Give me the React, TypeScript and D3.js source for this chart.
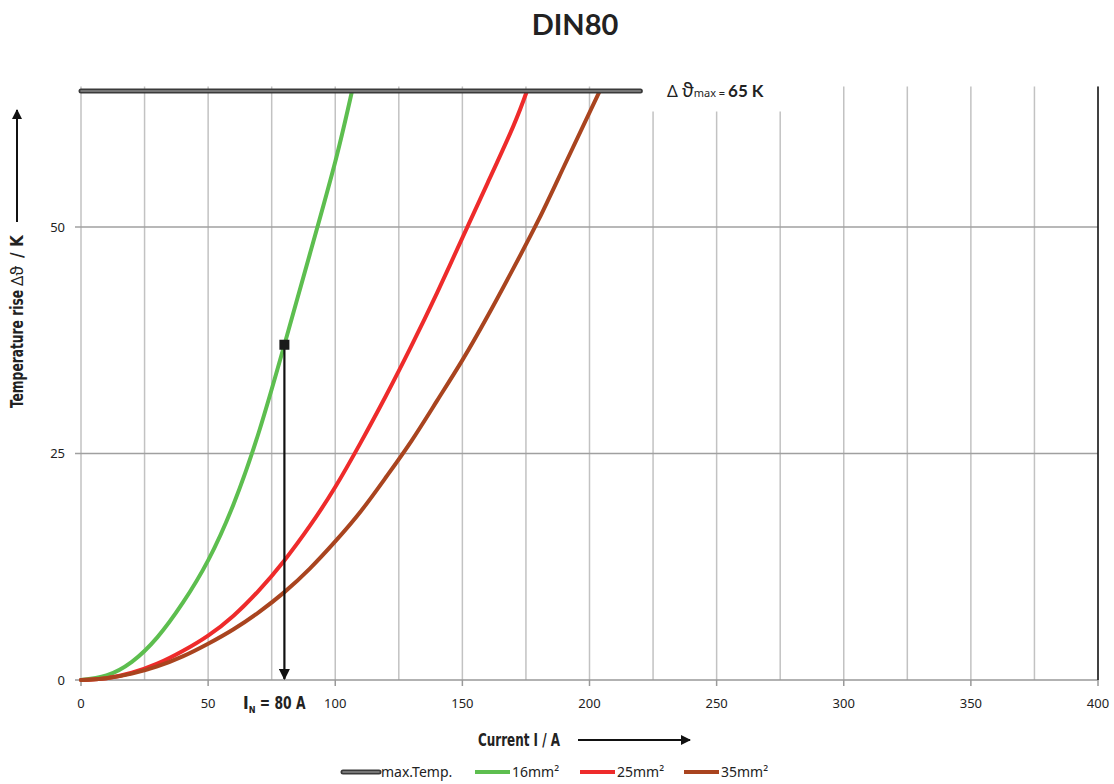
import React from 'react';
import * as d3 from 'd3';

// Temperature rise curves (current A, rise K)
const current16 = [0, 10, 20, 30, 40, 50, 60, 70, 80, 90, 100, 106.6];
const rise16 = [0, 0.5, 2.0, 4.7, 8.5, 13.2, 19.4, 27.4, 37.0, 47.0, 57.2, 65];

const current25 = [0, 10, 20, 30, 40, 50, 60, 70, 80, 90, 100, 110, 120, 130, 140, 150, 160, 170, 175.4];
const rise25 = [0, 0.2, 0.8, 1.8, 3.2, 4.9, 7.1, 9.9, 13.2, 17.0, 21.3, 26.2, 31.4, 36.9, 42.7, 48.8, 54.9, 61.1, 65];

const current35 = [0, 10, 20, 30, 40, 50, 60, 70, 80, 90, 100, 110, 120, 130, 140, 150, 160, 170, 180, 190, 204];
const rise35 = [0, 0.2, 0.7, 1.5, 2.6, 4.0, 5.6, 7.5, 9.7, 12.3, 15.3, 18.6, 22.4, 26.4, 30.8, 35.3, 40.2, 45.4, 50.8, 56.7, 65];

const series = [
  { name: '16mm²', xs: current16, ys: rise16, color: '#5dbe4f' },
  { name: '25mm²', xs: current25, ys: rise25, color: '#ee2b2b' },
  { name: '35mm²', xs: current35, ys: rise35, color: '#a9441f' },
];

const maxTemp = 65;
const maxTempEnd = 220;
const nominalCurrent = 80;
const nominalRise = 37;

const xGridTicks = d3.range(0, 401, 25);
const xLabelTicks = [0, 50, 100, 150, 200, 250, 300, 350, 400];
const yTicks = [0, 25, 50];

const W = 1114;
const H = 784;

const condensed = '"DejaVu Sans Condensed", "DejaVu Sans", sans-serif';
const plain = '"Noto Sans", "Open Sans", sans-serif';

export default function App() {
  const x = d3.scaleLinear().domain([0, 400]).range([81, 1098]);
  const y = d3.scaleLinear().domain([0, 65.5]).range([680, 86.5]);

  const line = d3
    .line<[number, number]>()
    .x((d) => x(d[0]))
    .y((d) => y(d[1]))
    .curve(d3.curveNatural);

  const top = y(65.5);
  const bottom = y(0);
  const left = x(0);
  const right = x(400);

  const legendItems = [
    { name: 'max.Temp.', color: null as string | null, x0: 343 },
    { name: series[0].name, color: series[0].color, x0: 475 },
    { name: series[1].name, color: series[1].color, x0: 580 },
    { name: series[2].name, color: series[2].color, x0: 684 },
  ];

  return (
    <svg
      width={W}
      height={H}
      style={{ position: 'absolute', left: 0, top: 0, background: '#fff' }}
    >
      <defs>
        <marker id="arrow" viewBox="0 0 10 10" refX="9" refY="5" markerWidth="5" markerHeight="5" orient="auto-start-reverse">
          <path d="M0,0 L10,5 L0,10 z" fill="#111" />
        </marker>
      </defs>

      {/* title */}
      <text x={575} y={35} textAnchor="middle" fontFamily='Lato, "Open Sans", sans-serif' fontWeight="bold" fontSize={29} fill="#222">
        DIN80
      </text>

      {/* vertical grid */}
      {xGridTicks.map((t) => (
        <line key={'vx' + t} x1={x(t)} x2={x(t)} y1={top} y2={bottom} stroke="#c2c2c2" strokeWidth={1.5} />
      ))}
      {/* horizontal grid */}
      {yTicks.filter((t) => t > 0).map((t) => (
        <line key={'hy' + t} x1={left - 6} x2={right} y1={y(t)} y2={y(t)} stroke="#a0a0a0" strokeWidth={1.5} />
      ))}
      {/* bottom axis */}
      <line x1={left - 6} x2={right} y1={bottom} y2={bottom} stroke="#999" strokeWidth={1.5} />
      {xLabelTicks.map((t) => (
        <line key={'tk' + t} x1={x(t)} x2={x(t)} y1={bottom} y2={bottom + 6} stroke="#999" strokeWidth={1.5} />
      ))}
      {/* right border */}
      <line x1={right} x2={right} y1={top} y2={bottom} stroke="#111" strokeWidth={1.5} />

      {/* tick labels */}
      {xLabelTicks.map((t) => (
        <text key={'xl' + t} x={x(t)} y={bottom + 28} textAnchor="middle" fontFamily={plain} fontSize={13} fill="#222">
          {t}
        </text>
      ))}
      {yTicks.map((t) => (
        <text key={'yl' + t} x={left - 16} y={y(t) + 5} textAnchor="end" fontFamily={plain} fontSize={13} fill="#222">
          {t}
        </text>
      ))}

      {/* curves */}
      {series.map((s) => (
        <path
          key={s.name}
          d={line(s.xs.map((v, i) => [v, s.ys[i]] as [number, number])) || ''}
          fill="none"
          stroke={s.color}
          strokeWidth={4}
          strokeLinecap="round"
        />
      ))}

      {/* max temp line */}
      <line x1={x(0)} x2={x(maxTempEnd)} y1={y(maxTemp)} y2={y(maxTemp)} stroke="#3a3a3a" strokeWidth={5} strokeLinecap="round" />
      <line x1={x(0)} x2={x(maxTempEnd)} y1={y(maxTemp)} y2={y(maxTemp)} stroke="#8a8a8a" strokeWidth={1.6} strokeLinecap="round" />

      {/* max temp label */}
      <rect x={644} y={top - 2} width={158} height={27} fill="#fff" />
      <text x={667} y={y(maxTemp) + 6} fontFamily={plain} fill="#222">
        <tspan fontSize={17}>Δ</tspan>
        <tspan fontSize={19} dx={4}>ϑ</tspan>
        <tspan fontSize={11}>max = </tspan>
        <tspan fontSize={17} fontWeight="bold" fontFamily='Lato, "Open Sans", sans-serif'>65 K</tspan>
      </text>

      {/* nominal current marker */}
      <line
        x1={x(nominalCurrent)}
        x2={x(nominalCurrent)}
        y1={y(nominalRise)}
        y2={bottom - 1}
        stroke="#111"
        strokeWidth={2.2}
        markerEnd="url(#arrow)"
      />
      <rect x={x(nominalCurrent) - 5} y={y(nominalRise) - 5} width={10} height={10} fill="#1a1a1a" />
      <text x={243} y={bottom + 29} fontFamily={condensed} fontWeight="bold" fontSize={17} fill="#222">
        I<tspan fontSize={9} dy={4}>N</tspan>
        <tspan dy={-4} textLength={50} lengthAdjust="spacingAndGlyphs"> = 80 A</tspan>
      </text>

      {/* axis titles */}
      <text x={478} y={746} fontFamily={condensed} fontWeight="bold" fontSize={17} fill="#222" textLength={82} lengthAdjust="spacingAndGlyphs">
        Current I / A
      </text>
      <line x1={578} x2={690} y1={740} y2={740} stroke="#111" strokeWidth={2} markerEnd="url(#arrow)" />

      <g transform={`translate(23, 408) rotate(-90)`}>
        <text x={0} y={0} fontFamily={condensed} fontWeight="bold" fontSize={17} fill="#222" textLength={118} lengthAdjust="spacingAndGlyphs">
          Temperature rise
        </text>
        <text x={122} y={0} fontFamily={plain} fontSize={16} fill="#222">
          Δϑ
        </text>
        <text x={150} y={0} fontFamily={condensed} fontWeight="bold" fontSize={17} fill="#222">
          / K
        </text>
      </g>
      <line x1={17} x2={17} y1={222} y2={110} stroke="#111" strokeWidth={2} markerEnd="url(#arrow)" />

      {/* legend */}
      {legendItems.map((it) => (
        <g key={it.name}>
          {it.color ? (
            <line x1={it.x0} x2={it.x0 + 35} y1={772} y2={772} stroke={it.color} strokeWidth={4} />
          ) : (
            <>
              <line x1={it.x0} x2={it.x0 + 36} y1={772} y2={772} stroke="#3a3a3a" strokeWidth={5} strokeLinecap="round" />
              <line x1={it.x0} x2={it.x0 + 36} y1={772} y2={772} stroke="#8a8a8a" strokeWidth={1.6} strokeLinecap="round" />
            </>
          )}
          <text x={it.x0 + (it.color ? 37 : 38)} y={777} fontFamily={plain} fontSize={14} fill="#222">
            {it.name}
          </text>
        </g>
      ))}
    </svg>
  );
}
